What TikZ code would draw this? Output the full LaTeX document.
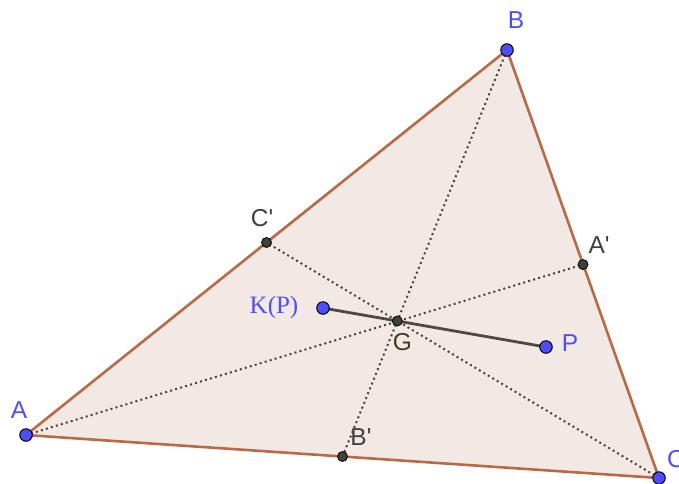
\documentclass[tikz,border=0pt]{standalone}
\usepackage{fontspec}
\setmainfont{Liberation Sans}
\newfontfamily\labfont{Liberation Sans}
\newfontfamily\serifK{Liberation Serif}
\begin{document}
\begin{tikzpicture}[x=1pt,y=-1pt,
  tri/.style={draw=edgec,line width=2.6pt,fill=fillc,line join=round},
  med/.style={draw=dotc,line width=2pt,dash pattern=on 2pt off 3.2pt},
  seg/.style={draw=segc,line width=2.8pt},
  bpt/.style={circle,fill=ptblue,draw=black,line width=1pt,inner sep=0pt,minimum size=12.5pt},
  gpt/.style={circle,fill=ptgrey,draw=black,line width=0.8pt,inner sep=0pt,minimum size=10pt},
  blab/.style={text=labblue,font=\labfont\fontsize{24.5}{26}\selectfont,inner sep=0pt},
  glab/.style={text=labgrey,font=\labfont\fontsize{24.5}{26}\selectfont,inner sep=0pt}]
\definecolor{edgec}{RGB}{184,106,70}
\definecolor{fillc}{RGB}{243,233,228}
\definecolor{dotc}{RGB}{80,64,56}
\definecolor{segc}{RGB}{80,72,72}
\definecolor{ptblue}{RGB}{77,77,255}
\definecolor{ptgrey}{RGB}{64,64,64}
\definecolor{labblue}{RGB}{77,77,255}
\definecolor{labgrey}{RGB}{64,64,64}
\definecolor{labG}{RGB}{72,56,40}
\useasboundingbox (0,0) rectangle (679,483);
\fill[white] (0,0) rectangle (679,483);
\coordinate (A) at (26,435);
\coordinate (B) at (507,50);
\coordinate (C) at (659,478);
\coordinate (Am) at (583,264.5);
\coordinate (Bm) at (342.5,456.5);
\coordinate (Cm) at (266.5,242.5);
\coordinate (G) at (397.3,321);
\coordinate (P) at (546,347);
\coordinate (K) at (323,308);
\draw[tri] (A) -- (B) -- (C) -- cycle;
\draw[med] (A) -- (Am);
\draw[med] (B) -- (Bm);
\draw[med] (C) -- (Cm);
\draw[seg] (K) -- (P);
\node[gpt] (nAm) at (Am) {};
\node[gpt] (nBm) at (Bm) {};
\node[gpt] (nCm) at (Cm) {};
\node[gpt] (nG) at (G) {};
\node[bpt] (nA) at (A) {};
\node[bpt] (nB) at (B) {};
\node[bpt] (nC) at (C) {};
\node[bpt] (nP) at (P) {};
\node[bpt] (nK) at (K) {};
\node[blab] (lA) at (19,410) {A};
\node[blab] (lB) at (516,20) {B};
\node[blab,anchor=west] (lC) at (667,459) {C};
\node[blab] (lP) at (570,343) {P};
\node[blab,font=\serifK\fontsize{25}{27}\selectfont] (lK) at (274,307) {K(P)};
\node[glab] (lCm) at (262,218) {C'};
\node[glab] (lAm) at (599,245) {A'};
\node[glab] (lBm) at (361,437.5) {B'};
\node[glab,text=labG] (lG) at (402.5,342) {G};
\end{tikzpicture}
\end{document}
